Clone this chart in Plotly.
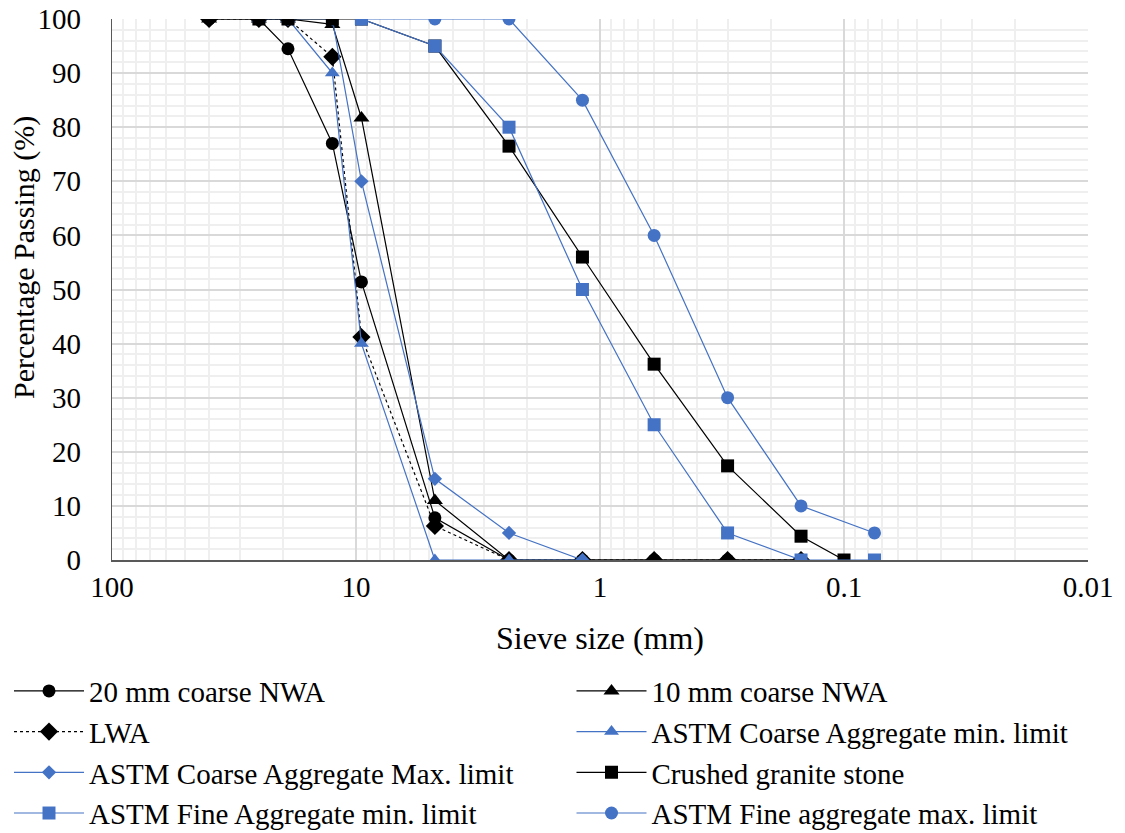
import plotly.graph_objects as go

# ---------------- data ----------------
sieve_nwa = [40, 25, 19, 12.5, 9.5, 4.75, 2.36, 1.18, 0.6, 0.3, 0.15]
nwa20 = [100, 100, 94.5, 77, 51.4, 7.8, 0, 0, 0, 0, 0]
nwa10 = [100, 100, 100, 99, 81.7, 11, 0, 0, 0, 0, 0]
lwa = [100, 100, 100, 93, 41.2, 6.3, 0, 0, 0, 0, 0]

sieve_cmin = [25, 19, 12.5, 9.5, 4.75, 2.36, 1.18]
coarse_min = [100, 100, 90, 40, 0, 0, 0]

sieve_cmax = [19, 12.5, 9.5, 4.75, 2.36, 1.18]
coarse_max = [100, 100, 70, 15, 5, 0]

sieve_granite = [25, 19, 12.5, 9.5, 4.75, 2.36, 1.18, 0.6, 0.3, 0.15, 0.1]
granite = [100, 100, 100, 100, 95, 76.5, 56, 36.2, 17.4, 4.4, 0]

sieve_fine = [9.5, 4.75, 2.36, 1.18, 0.6, 0.3, 0.15, 0.075]
fine_min = [100, 95, 80, 50, 25, 5, 0, 0]
fine_max = [100, 100, 100, 85, 60, 30, 10, 5]

x_tickvals = [100, 10, 1, 0.1, 0.01]
x_ticktext = ["100", "10", "1", "0.1", "0.01"]
y_tickvals = list(range(0, 101, 10))

BLUE = "#4472C4"
BLACK = "#000000"
FONT = "Liberation Serif"

fig = go.Figure()

def add(name, x, y, symbol, mcolor, lcolor, size, legend, dash="solid"):
    fig.add_trace(go.Scatter(
        x=x, y=y, name=name, mode="lines+markers", legend=legend,
        line=dict(color=lcolor, width=1.2, dash=dash),
        marker=dict(symbol=symbol, color=mcolor, size=size, line=dict(width=0)),
    ))

add("20 mm coarse NWA", sieve_nwa, nwa20, "circle", BLACK, BLACK, 13, "legend")
add("10 mm coarse NWA", sieve_nwa, nwa10, "triangle-up", BLACK, BLACK, 14, "legend2")
add("LWA", sieve_nwa, lwa, "diamond", BLACK, BLACK, 14, "legend", dash="dot")
add("ASTM Coarse Aggregate min. limit", sieve_cmin, coarse_min, "triangle-up", BLUE, BLUE, 13, "legend2")
add("ASTM Coarse Aggregate Max. limit", sieve_cmax, coarse_max, "diamond", BLUE, BLUE, 11, "legend")
add("Crushed granite stone", sieve_granite, granite, "square", BLACK, BLACK, 13, "legend2")
add("ASTM Fine Aggregate min. limit", sieve_fine, fine_min, "square", BLUE, BLUE, 13, "legend")
add("ASTM Fine aggregate max. limit", sieve_fine, fine_max, "circle", BLUE, BLUE, 13, "legend2")

legend_common = dict(
    orientation="v", xref="container", yref="container",
    y=0.201, xanchor="left", yanchor="top",
    font=dict(family=FONT, size=29, color="black"),
    itemwidth=70, bgcolor="rgba(0,0,0,0)", tracegroupgap=0,
)

fig.update_layout(
    width=1125, height=833,
    margin=dict(l=112, r=37, t=19, b=273, autoexpand=False),
    paper_bgcolor="white", plot_bgcolor="white",
    font=dict(family=FONT, size=29, color="black"),
    showlegend=True,
    legend=dict(x=0.008, **legend_common),
    legend2=dict(x=0.508, **legend_common),
    annotations=[dict(
        text="Percentage Passing (%)", textangle=-90,
        xref="paper", yref="paper", x=-0.0902, y=0.56,
        xanchor="center", yanchor="middle", showarrow=False,
        font=dict(family=FONT, size=30, color="black"),
    )],
)

fig.update_xaxes(
    type="log", range=[2, -2],
    tickvals=x_tickvals, ticktext=x_ticktext,
    showgrid=True, gridcolor="#d9d9d9", gridwidth=1.5,
    minor=dict(dtick="D1", showgrid=True, gridcolor="#efefef", gridwidth=1.5, ticks=""),
    showline=True, linecolor="#595959", linewidth=1.5,
    ticks="", ticklabelstandoff=0,
    title=dict(text="Sieve size (mm)", standoff=25, font=dict(family=FONT, size=32)),
    zeroline=False,
)
fig.update_yaxes(
    range=[0, 100], tickvals=y_tickvals,
    showgrid=True, gridcolor="#d9d9d9", gridwidth=1.5,
    minor=dict(dtick=2, showgrid=True, gridcolor="#efefef", gridwidth=1.5, ticks=""),
    showline=True, linecolor="#595959", linewidth=1.2,
    ticks="", ticklabelstandoff=24,
    zeroline=False,
)

fig.write_html("out.html")
